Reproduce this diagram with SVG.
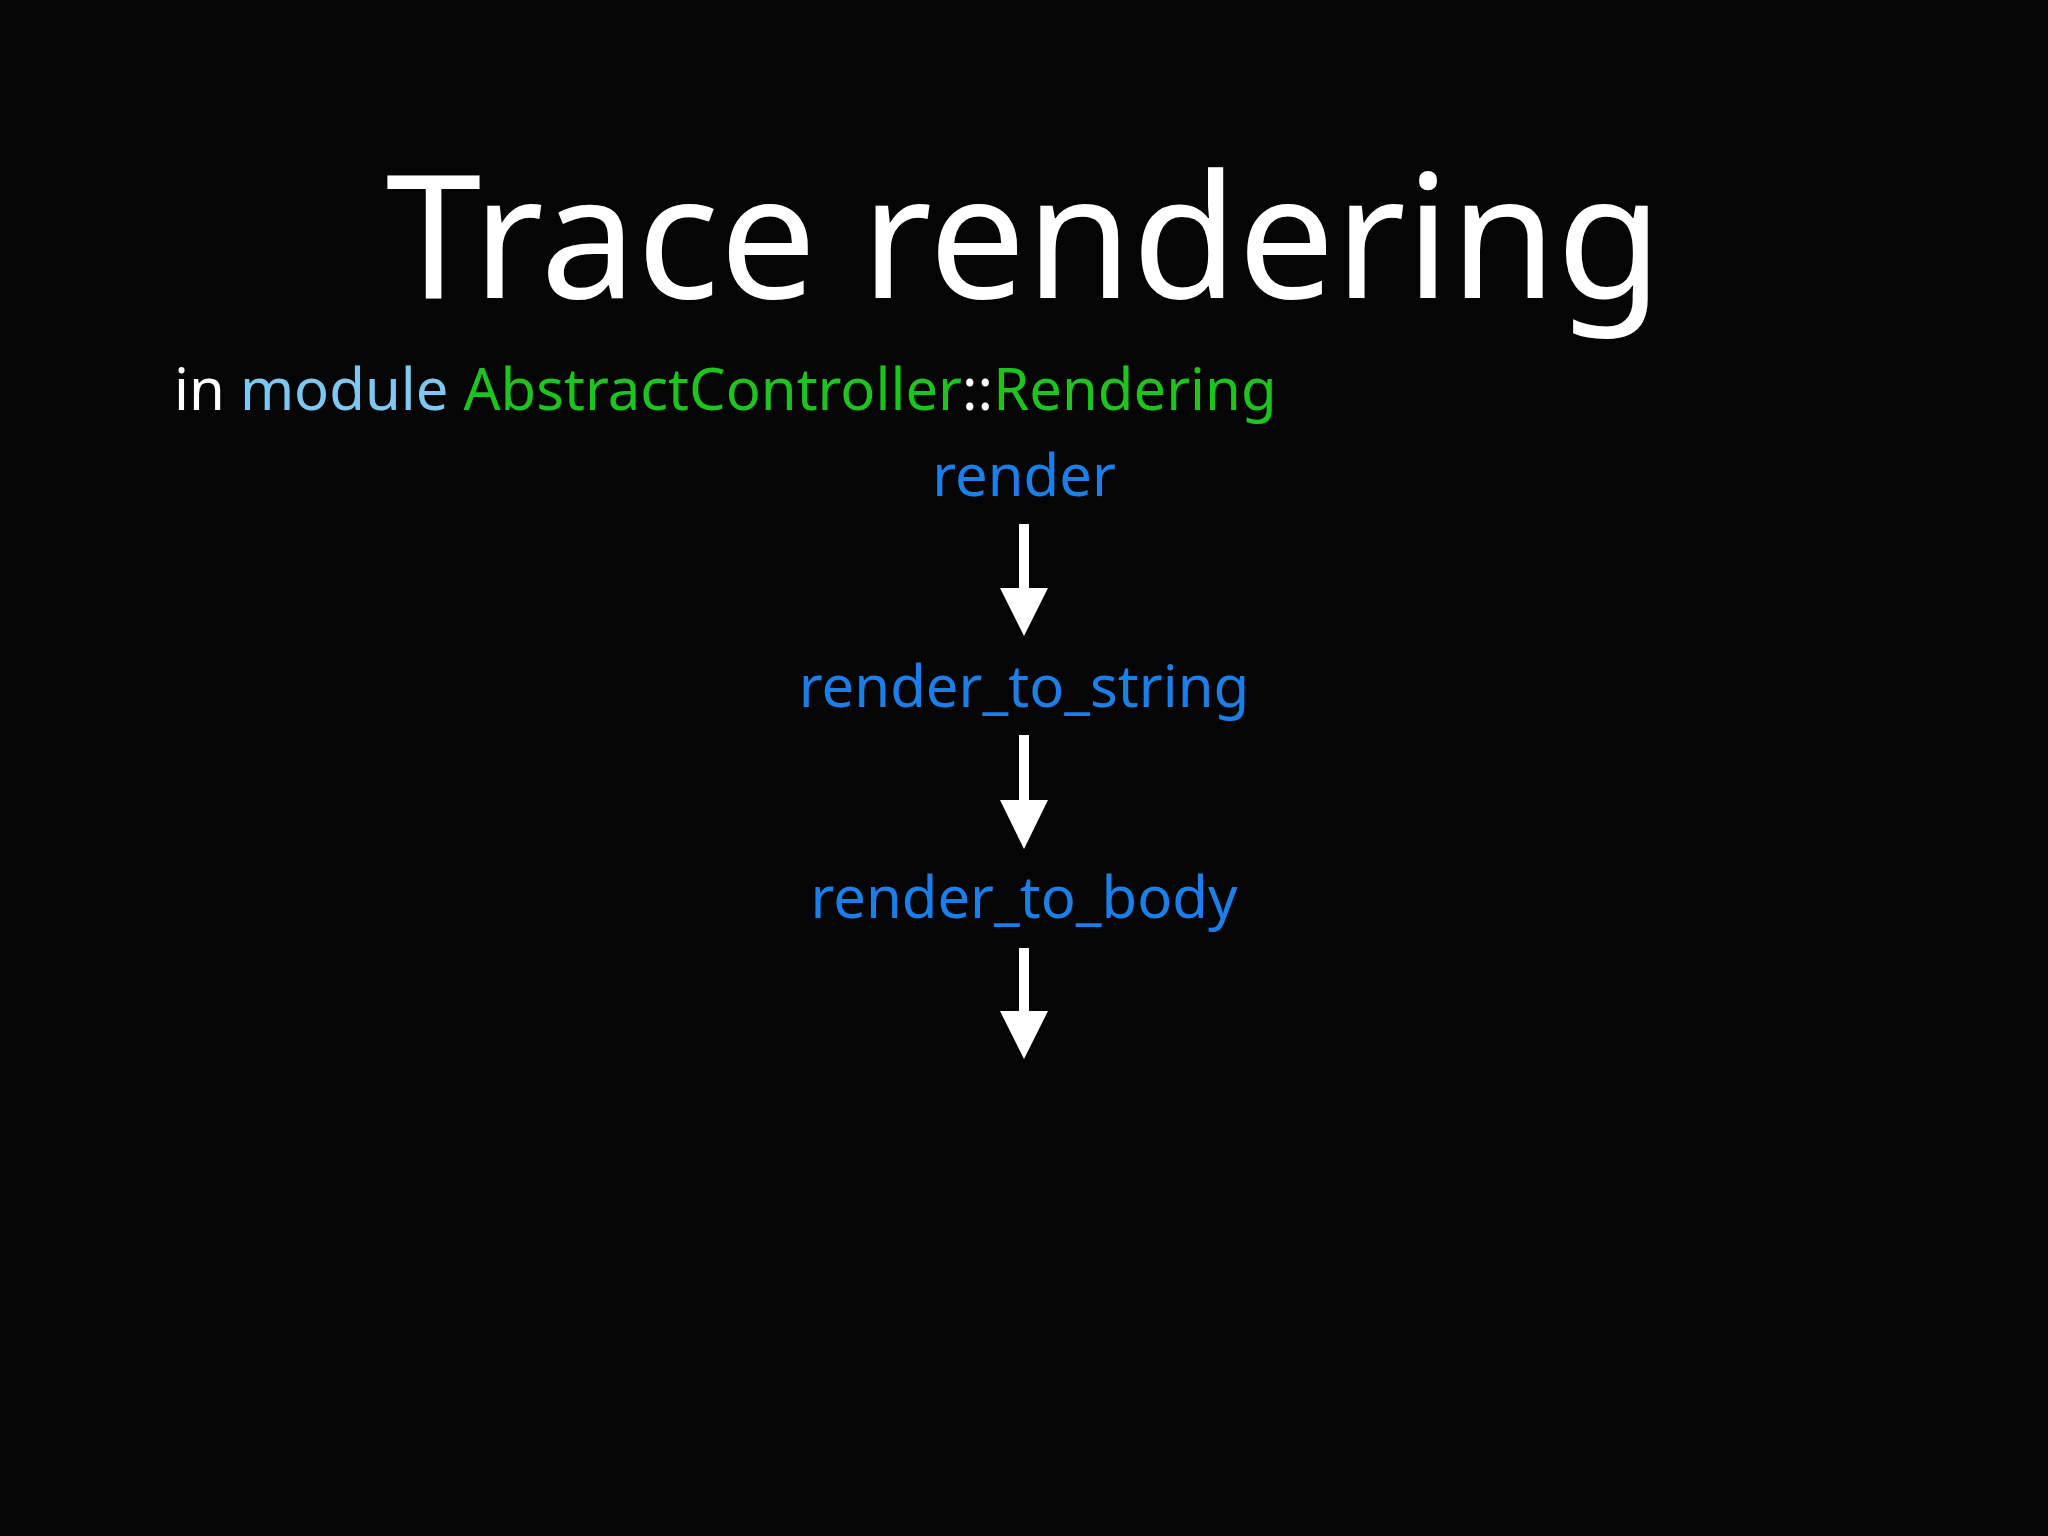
<svg xmlns="http://www.w3.org/2000/svg" width="2048" height="1536" viewBox="0 0 2048 1536">
<style>
text{font-family:"Noto Sans","DejaVu Sans",sans-serif}
.fn{fill:#1a7fe8;font-size:58px;text-anchor:middle}
.ln{fill:#fff}
</style>
<rect width="2048" height="1536" fill="#050505"/>
<text x="1024" y="298" fill="#fff" font-size="172" text-anchor="middle">Trace rendering</text>
<text x="174" y="410" font-size="58"><tspan fill="#fff">in </tspan><tspan fill="#7cc8f0">module </tspan><tspan fill="#1ec41e">AbstractController</tspan><tspan fill="#fff">::</tspan><tspan fill="#1ec41e">Rendering</tspan></text>
<g id="n1"><text class="fn" x="1024" y="496">render</text></g>
<g id="n2"><text class="fn" x="1024" y="707">render_to_string</text></g>
<g id="n3"><text class="fn" x="1024" y="918">render_to_body</text></g>
<g id="connectors" class="ln">
<rect x="1019" y="524" width="10" height="68"/><path d="M1000,588 L1048,588 L1024,636 Z"/>
<rect x="1019" y="735" width="10" height="68"/><path d="M1000,800 L1048,800 L1024,849 Z"/>
<rect x="1019" y="948" width="10" height="68"/><path d="M1000,1011 L1048,1011 L1024,1059 Z"/>
</g>
</svg>
